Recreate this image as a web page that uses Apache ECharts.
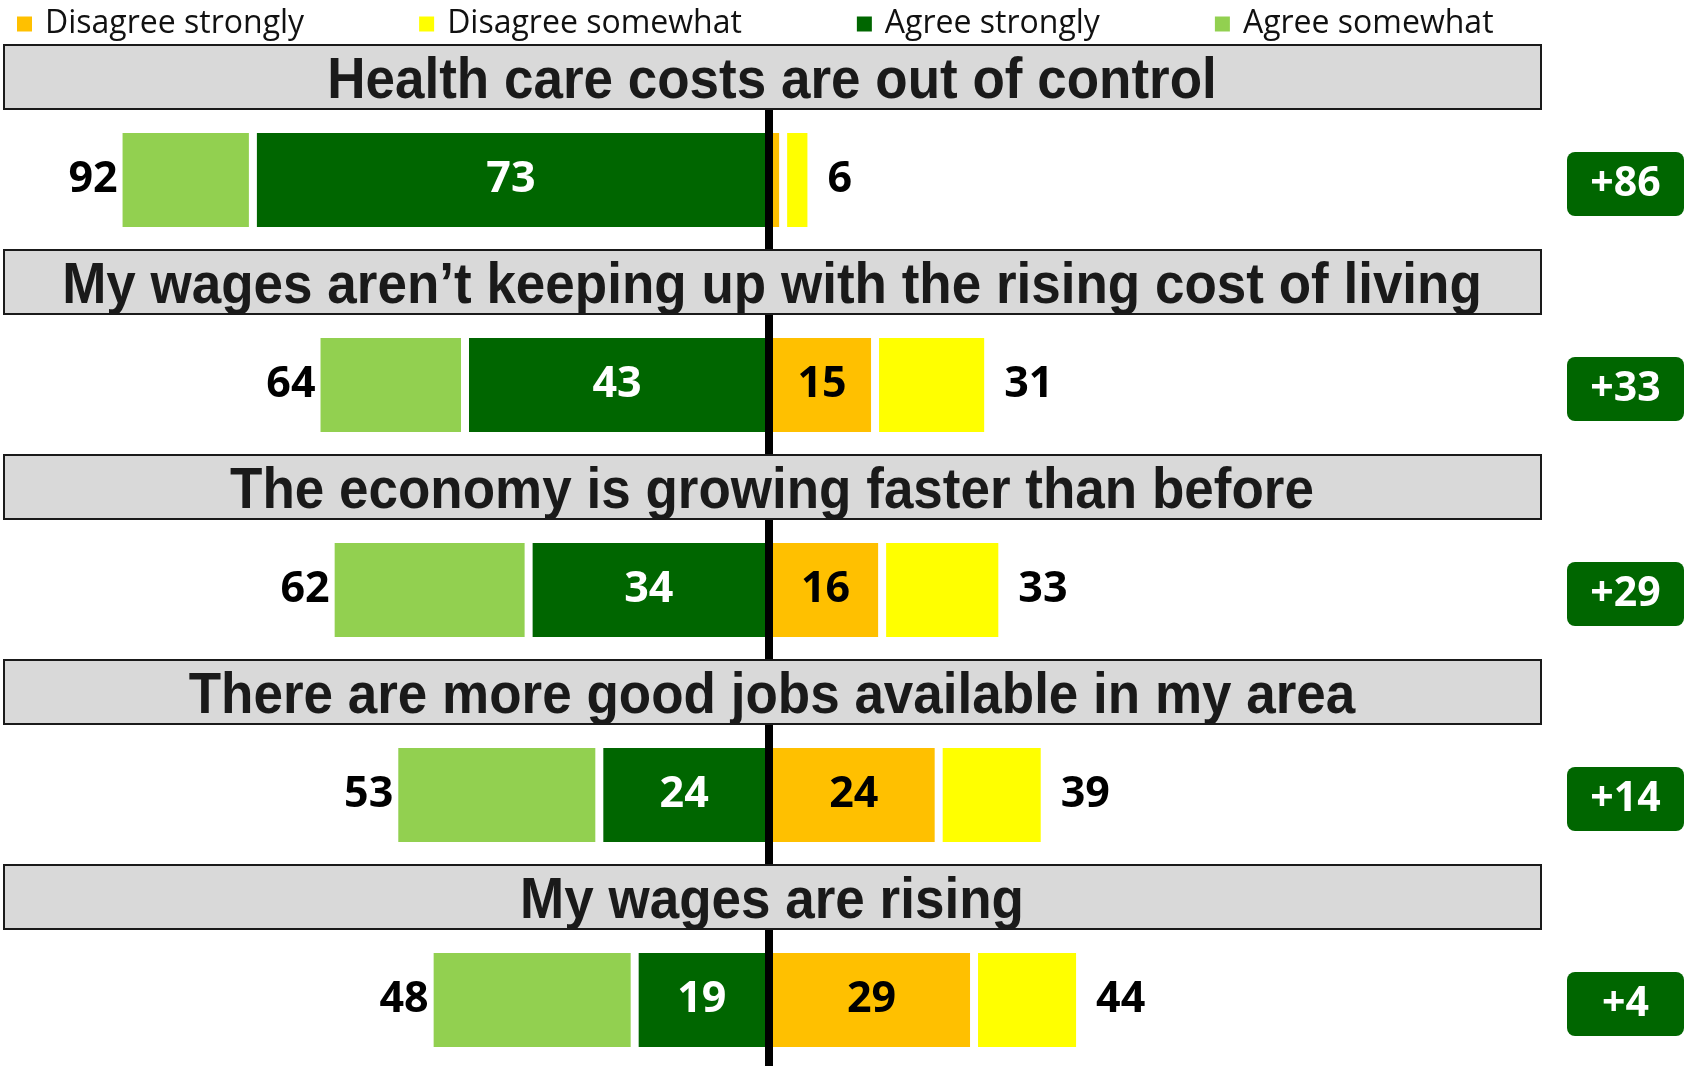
<!DOCTYPE html>
<html>
<head>
<meta charset="utf-8">
<script src="https://cdn.jsdelivr.net/npm/echarts@6/dist/echarts.min.js"></script>
<style>
  html, body { margin: 0; padding: 0; background: #fff; }
  #chart { width: 1691px; height: 1066px; }
</style>
</head>
<body>
<div id="chart"></div>
<script>
// ---- data ----
var categories = [
  'Health care costs are out of control',
  'My wages aren\u2019t keeping up with the rising cost of living',
  'The economy is growing faster than before',
  'There are more good jobs available in my area',
  'My wages are rising'
];
var agreeStrongly     = [73, 43, 34, 24, 19];
var agreeSomewhat     = [19, 21, 28, 29, 29];
var disagreeStrongly  = [2, 15, 16, 24, 29];
var disagreeSomewhat  = [4, 16, 17, 15, 15];
var agreeTotal        = [92, 64, 62, 53, 48];
var disagreeTotal     = [6, 31, 33, 39, 44];
var netLabels         = ['+86', '+33', '+29', '+14', '+4'];
var legendNames       = ['Disagree strongly', 'Disagree somewhat', 'Agree strongly', 'Agree somewhat'];

var C_DS = '#FFC000', C_DW = '#FFFF00', C_AS = '#006600', C_AW = '#92D050';
var NUM_FONT = '"Open Sans", "Lato", sans-serif';

var chart = echarts.init(document.getElementById('chart'), null, { renderer: 'canvas' });

function neg(arr) { return arr.map(function (v) { return -v; }); }

var numLabel = { fontFamily: NUM_FONT, fontSize: 43, fontWeight: 'bold' };

var option = {
  backgroundColor: '#fff',
  animation: false,
  legend: {
    data: legendNames,
    left: 17, top: 8, padding: 0,
    icon: 'rect', itemWidth: 15, itemHeight: 15, itemGap: 115,
    itemStyle: { borderWidth: 0 },
    selectedMode: false,
    textStyle: { fontFamily: '"Open Sans", sans-serif', fontSize: 32, color: '#111', padding: [0, 0, 0, 8] }
  },
  grid: { left: 62, width: 1414, top: 77.5, height: 1025, containLabel: false, outerBoundsMode: 'none' },
  xAxis: { type: 'value', min: -100, max: 100, show: false },
  yAxis: { type: 'category', data: categories, inverse: true, show: false },
  series: [
    {
      name: 'Agree strongly', type: 'bar', stack: 'agree', barWidth: 102, barGap: '-100%',
      data: neg(agreeStrongly),
      itemStyle: { color: C_AS, borderColor: '#fff', borderWidth: 4 },
      label: Object.assign({ show: true, position: 'inside', color: '#fff',
        formatter: function (p) { return Math.abs(p.value); } }, numLabel)
    },
    {
      name: 'Agree somewhat', type: 'bar', stack: 'agree', barWidth: 102, barGap: '-100%',
      data: neg(agreeSomewhat),
      itemStyle: { color: C_AW, borderColor: '#fff', borderWidth: 4 },
      label: Object.assign({ show: true, position: 'left', distance: 1, color: '#000',
        formatter: function (p) { return agreeTotal[p.dataIndex]; } }, numLabel)
    },
    {
      name: 'Disagree strongly', type: 'bar', stack: 'disagree', barWidth: 102, barGap: '-100%',
      data: disagreeStrongly,
      itemStyle: { color: C_DS, borderColor: '#fff', borderWidth: 4 },
      label: Object.assign({ show: true, position: 'inside', color: '#000',
        formatter: function (p) { return p.value >= 5 ? p.value : ''; } }, numLabel)
    },
    {
      name: 'Disagree somewhat', type: 'bar', stack: 'disagree', barWidth: 102, barGap: '-100%',
      data: disagreeSomewhat,
      itemStyle: { color: C_DW, borderColor: '#fff', borderWidth: 4 },
      label: Object.assign({ show: true, position: 'right', distance: 16, color: '#000',
        formatter: function (p) { return disagreeTotal[p.dataIndex]; } }, numLabel)
    },
    {
      name: 'frame', type: 'custom', z: 5, silent: true, clip: false,
      encode: { x: 0, y: 1 },
      data: categories.map(function (c, i) { return [0, i]; }),
      renderItem: function (params, api) {
        var i = params.dataIndex;
        var c = api.coord([0, i]);
        var x0 = c[0], yc = c[1];
        var band = api.size([0, 1])[1];
        var hy = yc - 103;
        var by = yc + 4;
        return {
          type: 'group',
          children: [
            { type: 'line', shape: { x1: x0, y1: yc - band / 2, x2: x0, y2: yc + band / 2 },
              style: { stroke: '#000', lineWidth: 8 } },
            { type: 'rect', shape: { x: 4, y: hy - 32, width: 1537, height: 64 },
              style: { fill: '#d9d9d9', stroke: '#1a1a1a', lineWidth: 2 } },
            { type: 'text', x: 772, y: hy + 5, scaleX: 0.93, scaleY: 1,
              style: { text: categories[i], x: 0, y: 0, align: 'center', verticalAlign: 'middle',
                font: 'bold 57px "Liberation Sans", Arial, sans-serif', fill: '#1a1a1a' } },
            { type: 'rect', shape: { x: 1567, y: by - 32, width: 117, height: 64, r: 8 },
              style: { fill: C_AS } },
            { type: 'text', style: { text: netLabels[i], x: 1625.5, y: by, align: 'center', verticalAlign: 'middle',
              font: 'bold 41px ' + NUM_FONT, fill: '#fff' } }
          ]
        };
      }
    }
  ]
};
chart.setOption(option);
</script>
</body>
</html>
